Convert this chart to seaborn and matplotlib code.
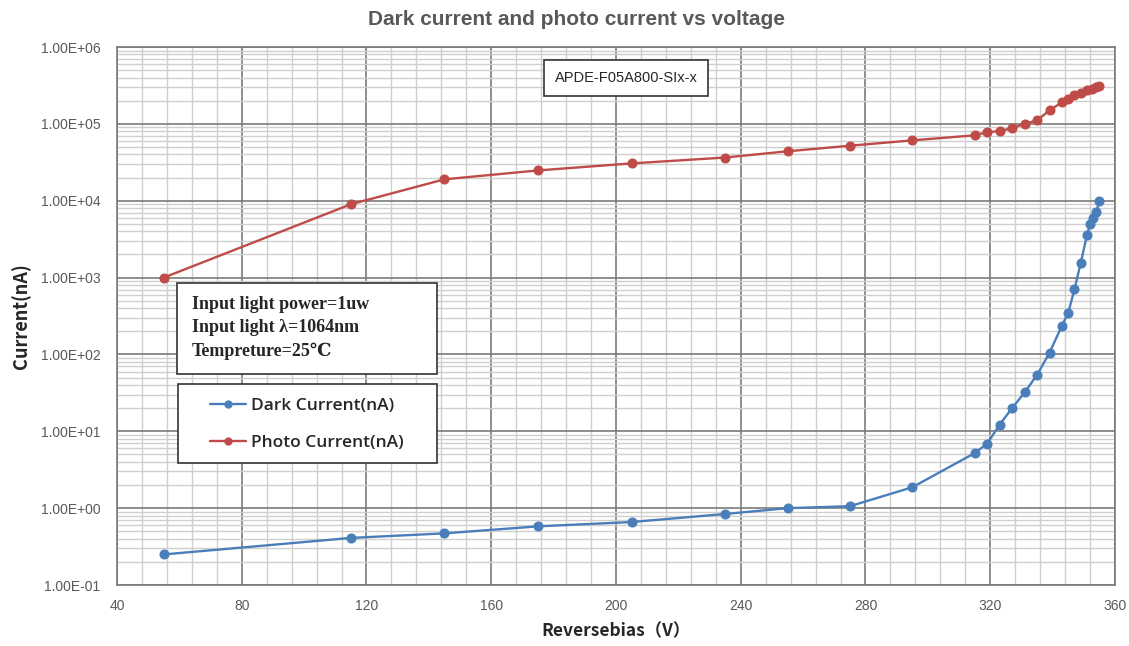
import pandas as pd
import matplotlib.pyplot as plt
import matplotlib.ticker as mticker
from matplotlib.patches import Rectangle
import seaborn as sns

# reverse bias voltage (V)
voltage = [55, 115, 145, 175, 205, 235, 255, 275, 295, 315, 319, 323, 327,
           331, 335, 339, 343, 345, 347, 349, 351, 352, 353, 354, 355]
# dark current (nA)
dark_current = [0.25, 0.41, 0.47, 0.58, 0.66, 0.84, 1.0, 1.06, 1.87, 5.2, 6.9,
                12.2, 20, 32, 54, 105, 238, 347, 705, 1540, 3550, 5000, 6000,
                7100, 10000]
# photo current (nA)
photo_voltage = [55, 115, 145, 175, 205, 235, 255, 275, 295, 315, 319, 323, 327,
                 331, 335, 339, 343, 345, 347, 349, 351, 352.5, 354, 355]
photo_current = [1000, 9000, 19000, 24800, 30600, 36500, 44000, 52000, 61000,
                 71000, 78000, 80500, 88000, 100000, 111000, 150000, 191000,
                 213000, 236000, 252000, 272000, 287000, 300000, 307000]

y_ticks = [1e-1, 1e0, 1e1, 1e2, 1e3, 1e4, 1e5, 1e6]

dark_df = pd.DataFrame({'V': voltage, 'I': dark_current})
photo_df = pd.DataFrame({'V': photo_voltage, 'I': photo_current})

sns.set_style('white')
plt.rcParams['font.family'] = ['Liberation Sans', 'DejaVu Sans']

fig = plt.figure(figsize=(11.29, 6.46), dpi=100)
ax = fig.add_axes([0.1036, 0.0944, 0.884, 0.8328])

blue = '#4A7EBB'
red = '#BE4B48'
sns.lineplot(data=dark_df, x='V', y='I', ax=ax, color=blue, marker='o',
             markersize=6.5, linewidth=1.7, markeredgecolor=blue,
             label='Dark Current(nA)', sort=False)
sns.lineplot(data=photo_df, x='V', y='I', ax=ax, color=red, marker='o',
             markersize=6.5, linewidth=1.7, markeredgecolor=red,
             label='Photo Current(nA)', sort=False)

ax.set_yscale('log')
ax.set_xlim(40, 360)
ax.set_ylim(1e-1, 1e6)
ax.xaxis.set_major_locator(mticker.MultipleLocator(40))
ax.xaxis.set_minor_locator(mticker.MultipleLocator(8))
ax.yaxis.set_major_locator(mticker.FixedLocator(y_ticks))
ax.yaxis.set_minor_locator(mticker.LogLocator(base=10, subs=range(2, 10), numticks=20))
ax.yaxis.set_major_formatter(mticker.FuncFormatter(lambda v, p: f'{v:.2E}'))
ax.yaxis.set_minor_formatter(mticker.NullFormatter())

ax.grid(which='major', color='#7a7a7a', linewidth=1.2)
ax.grid(which='minor', color='#cfcfcf', linewidth=1.0)
ax.set_axisbelow(True)
for s in ax.spines.values():
    s.set_color('#7a7a7a')
    s.set_linewidth(1.2)

ax.tick_params(axis='both', which='both', length=0, labelsize=10,
               labelcolor='#595959')
ax.tick_params(axis='y', pad=12)
ax.tick_params(axis='x', pad=10)

ax.set_xlabel('Reversebias（V）', fontsize=12.5, fontweight='bold', labelpad=7,
              family=['Noto Sans CJK SC', 'DejaVu Sans'])
ax.set_ylabel('Current(nA)', fontsize=13, fontweight='bold', labelpad=7,
              family=['Noto Sans CJK SC', 'DejaVu Sans'])
fig.suptitle('Dark current and photo current vs voltage', x=0.511, y=0.985,
             fontsize=15, fontweight='bold', color='#595959')

ax.text(0.51, 0.942, 'APDE-F05A800-SIx-x', transform=ax.transAxes,
        ha='center', va='center', fontsize=10.5,
        bbox=dict(boxstyle='square,pad=0.75', fc='white', ec='#333333', lw=1.2))

# info box and legend box frames
ax.add_patch(Rectangle((0.0601, 0.392), 0.2605, 0.169, transform=ax.transAxes,
                       fc='white', ec='#333333', lw=1.2, zorder=4))
ax.add_patch(Rectangle((0.0611, 0.2268), 0.2595, 0.1468, transform=ax.transAxes,
                       fc='white', ec='#333333', lw=1.2, zorder=4))

ax.text(0.0752, 0.4777,
        'Input light power=1uw\nInput light \u03bb=1064nm\nTempreture=25\u2103',
        transform=ax.transAxes, ha='left', va='center', fontsize=13,
        fontweight='bold', linespacing=1.5, zorder=5,
        family=['Liberation Serif', 'DejaVu Serif', 'DejaVu Sans'])

leg = ax.legend(loc='center left', bbox_to_anchor=(0.093, 0.2983), frameon=False,
                labelspacing=1.2, borderpad=0, handlelength=2.1,
                handletextpad=0.25, markerscale=0.8, borderaxespad=0,
                prop={'family': ['Open Sans', 'DejaVu Sans'], 'size': 12.5,
                      'weight': 'semibold'})
leg.set_zorder(6)

fig.savefig('out.png', dpi=100)
